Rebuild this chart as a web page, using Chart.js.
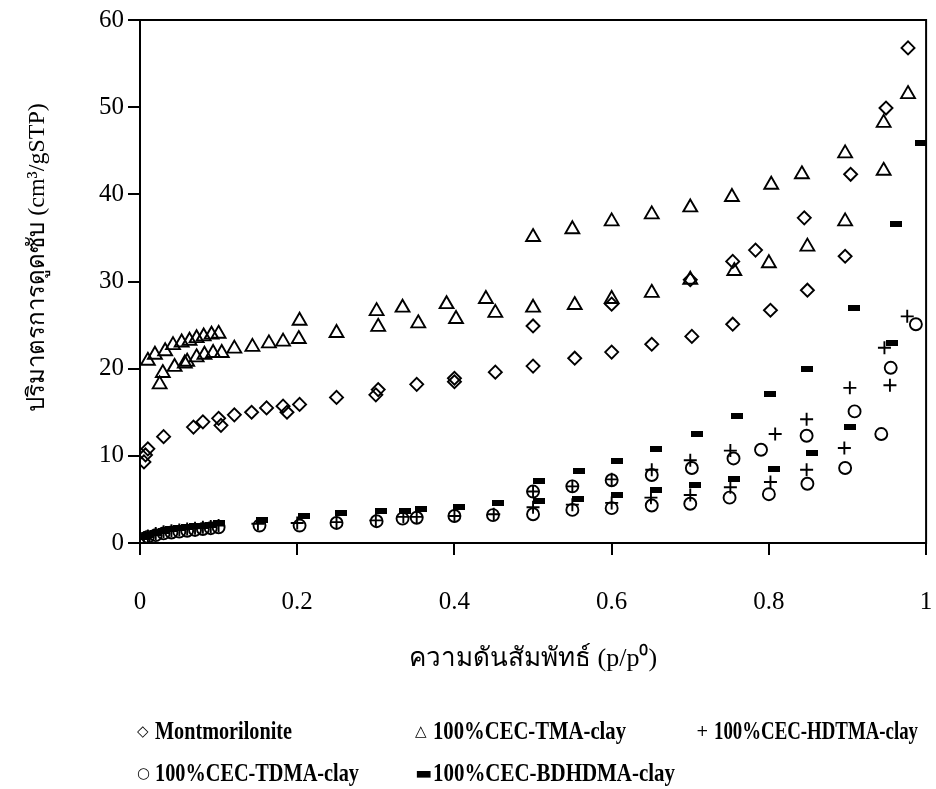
<!DOCTYPE html>
<html>
<head>
<meta charset="utf-8">
<script src="https://cdn.jsdelivr.net/npm/chart.js@4/dist/chart.umd.min.js"></script>
<style>
  body { margin: 0; background: #fff; }
  #wrap { position: relative; width: 936px; height: 789px; }
  .lg { position: absolute; font-family: "Liberation Serif", serif; font-weight: bold; font-size: 26px; color: #000; white-space: nowrap; line-height: 28px; }
  .lg .mk { display: inline-block; width: 18px; font-weight: normal; font-family: "DejaVu Sans", sans-serif; font-size: 15px; vertical-align: 3px; }
  .lg .tx { display: inline-block; transform-origin: left center; }
</style>
</head>
<body>
<div id="wrap">
  <canvas id="chart" width="936" height="789"></canvas>
  <div class="lg" style="left:137px; top:717px;"><span class="mk">◇</span><span class="tx" data-w="137">Montmorilonite</span></div>
  <div class="lg" style="left:415px; top:717px;"><span class="mk">△</span><span class="tx" data-w="193">100%CEC-TMA-clay</span></div>
  <div class="lg" style="left:696px; top:717px;"><span class="mk">+</span><span class="tx" data-w="204">100%CEC-HDTMA-clay</span></div>
  <div class="lg" style="left:137px; top:759px;"><span class="mk">○</span><span class="tx" data-w="204">100%CEC-TDMA-clay</span></div>
  <div class="lg" style="left:415px; top:759px;"><span class="mk" style="font-size:18px; vertical-align:2px;">▬</span><span class="tx" data-w="242">100%CEC-BDHDMA-clay</span></div>
</div>
<script>
// relative pressure p/p0 and adsorbed volume (cm3/gSTP)
var montX = [0.005, 0.007, 0.01, 0.03, 0.068, 0.08, 0.1, 0.12, 0.142, 0.161, 0.182, 0.203, 0.25, 0.303, 0.352, 0.4, 0.452, 0.5, 0.553, 0.6, 0.651, 0.702, 0.754, 0.802, 0.849, 0.897, 0.949, 0.977,
             0.904, 0.845, 0.783, 0.754, 0.70, 0.6, 0.5, 0.4, 0.3, 0.187, 0.103];
var montY = [9.3, 10.1, 10.8, 12.2, 13.3, 13.9, 14.3, 14.7, 15.0, 15.5, 15.7, 15.9, 16.7, 17.6, 18.2, 18.9, 19.6, 20.3, 21.2, 21.9, 22.8, 23.7, 25.1, 26.7, 29.0, 32.9, 49.9, 56.8,
             42.3, 37.3, 33.6, 32.3, 30.2, 27.4, 24.9, 18.5, 17.0, 15.0, 13.5];

var tmaX = [0.025, 0.029, 0.044, 0.057, 0.06, 0.072, 0.082, 0.093, 0.104, 0.12, 0.143, 0.164, 0.182, 0.202, 0.25, 0.303, 0.354, 0.402, 0.452, 0.5, 0.553, 0.6, 0.651, 0.70, 0.756, 0.80, 0.849, 0.897, 0.946, 0.977,
            0.946, 0.897, 0.842, 0.803, 0.753, 0.70, 0.651, 0.6, 0.55, 0.5, 0.44, 0.39, 0.334, 0.301, 0.203,
            0.1, 0.091, 0.081, 0.072, 0.063, 0.053, 0.042, 0.032, 0.019, 0.01];
var tmaY = [18.2, 19.5, 20.2, 20.6, 20.8, 21.3, 21.6, 21.8, 21.8, 22.3, 22.5, 22.9, 23.1, 23.4, 24.1, 24.8, 25.2, 25.7, 26.4, 27.0, 27.3, 28.0, 28.7, 30.2, 31.2, 32.1, 34.0, 36.9, 42.7, 51.5,
            48.2, 44.7, 42.3, 41.1, 39.7, 38.5, 37.7, 36.9, 36.0, 35.1, 28.0, 27.4, 27.0, 26.6, 25.5,
            24.0, 23.9, 23.7, 23.5, 23.2, 23.0, 22.7, 22.0, 21.6, 20.9];

var hdtmaX = [0.005, 0.01, 0.02, 0.03, 0.04, 0.05, 0.06, 0.07, 0.08, 0.09, 0.1, 0.15, 0.2, 0.25, 0.3, 0.335, 0.352, 0.4, 0.45, 0.5, 0.55, 0.6, 0.65, 0.70, 0.751, 0.802, 0.848, 0.896, 0.954, 0.976,
              0.947, 0.903, 0.848, 0.808, 0.751, 0.70, 0.651, 0.6, 0.55, 0.5];
var hdtmaY = [0.6, 0.8, 1.1, 1.3, 1.4, 1.5, 1.6, 1.7, 1.8, 1.9, 2.0, 2.2, 2.3, 2.4, 2.6, 3.0, 3.0, 3.1, 3.3, 4.1, 4.4, 4.6, 5.2, 5.5, 6.4, 7.0, 8.4, 10.9, 18.1, 26.0,
              22.4, 17.8, 14.2, 12.5, 10.6, 9.5, 8.4, 7.3, 6.5, 5.9];

var tdmaX = [0.005, 0.01, 0.02, 0.03, 0.04, 0.05, 0.06, 0.07, 0.08, 0.09, 0.1, 0.152, 0.203, 0.25, 0.301, 0.334, 0.352, 0.4, 0.449, 0.5, 0.55, 0.6, 0.651, 0.70, 0.75, 0.80, 0.849, 0.897, 0.943, 0.987,
             0.955, 0.909, 0.848, 0.79, 0.755, 0.702, 0.651, 0.6, 0.55, 0.5];
var tdmaY = [0.5, 0.7, 0.9, 1.1, 1.2, 1.3, 1.4, 1.5, 1.6, 1.7, 1.8, 2.0, 2.0, 2.3, 2.5, 2.8, 2.9, 3.1, 3.2, 3.3, 3.8, 4.0, 4.3, 4.5, 5.2, 5.6, 6.8, 8.6, 12.5, 25.1,
             20.1, 15.1, 12.3, 10.7, 9.7, 8.6, 7.8, 7.2, 6.5, 5.9];

var bdhdmaX = [0.005, 0.01, 0.02, 0.03, 0.04, 0.05, 0.06, 0.07, 0.08, 0.09, 0.1, 0.155, 0.208, 0.256, 0.307, 0.337, 0.358, 0.406, 0.456, 0.508, 0.557, 0.607, 0.657, 0.706, 0.756, 0.807, 0.855, 0.903, 0.956, 0.994,
               0.962, 0.908, 0.848, 0.802, 0.759, 0.708, 0.657, 0.607, 0.558, 0.508];
var bdhdmaY = [0.7, 0.9, 1.2, 1.4, 1.6, 1.7, 1.8, 1.9, 2.0, 2.1, 2.3, 2.6, 3.1, 3.4, 3.7, 3.7, 3.9, 4.1, 4.6, 4.8, 5.1, 5.5, 6.1, 6.7, 7.3, 8.5, 10.3, 13.3, 22.9, 45.9,
               36.6, 27.0, 20.0, 17.1, 14.6, 12.5, 10.8, 9.4, 8.3, 7.1];

var seriesNames = ['Montmorilonite', '100%CEC-TMA-clay', '100%CEC-HDTMA-clay', '100%CEC-TDMA-clay', '100%CEC-BDHDMA-clay'];

function pts(xs, ys) {
    return xs.map(function (x, i) { return { x: x, y: ys[i] }; });
}

// small filled bar used as the BDHDMA marker
var barMark = document.createElement('canvas');
barMark.width = 12;
barMark.height = 6;
var bctx = barMark.getContext('2d');
bctx.fillStyle = '#000';
bctx.fillRect(0, 0, 12, 6);

var frame = {
    id: 'frame',
    afterDatasetsDraw: function (chart) {
        var a = chart.chartArea, c = chart.ctx;
        c.save();
        c.strokeStyle = '#000';
        c.lineWidth = 2;
        c.strokeRect(a.left, a.top, a.right - a.left, a.bottom - a.top);
        c.restore();
    }
};

var base = { showLine: false, borderColor: '#000', backgroundColor: 'rgba(0,0,0,0)', borderWidth: 1.9 };

new Chart(document.getElementById('chart').getContext('2d'), {
    type: 'scatter',
    data: {
        datasets: [
            Object.assign({ label: seriesNames[0], data: pts(montX, montY), pointStyle: 'rectRot', pointRadius: 6.5 }, base),
            Object.assign({ label: seriesNames[1], data: pts(tmaX, tmaY), pointStyle: 'triangle', pointRadius: 8 }, base),
            Object.assign({ label: seriesNames[2], data: pts(hdtmaX, hdtmaY), pointStyle: 'cross', pointRadius: 6.5 }, base),
            Object.assign({ label: seriesNames[3], data: pts(tdmaX, tdmaY), pointStyle: 'circle', pointRadius: 6 }, base),
            Object.assign({ label: seriesNames[4], data: pts(bdhdmaX, bdhdmaY), pointStyle: barMark, pointRadius: 6 }, base)
        ]
    },
    options: {
        responsive: false,
        animation: false,
        layout: { padding: { top: 20, right: 8, left: 0, bottom: 106 } },
        plugins: {
            legend: { display: false },
            tooltip: { enabled: false }
        },
        scales: {
            x: {
                type: 'linear',
                min: 0,
                max: 1,
                afterFit: function (s) { s.height = 140; s.paddingLeft = 0; s.paddingRight = 0; },
                ticks: {
                    stepSize: 0.2,
                    color: '#000',
                    padding: 32,
                    font: { family: 'Liberation Serif', size: 25 },
                    callback: function (v) { return String(Math.round(v * 10) / 10); }
                },
                grid: { drawOnChartArea: false, tickLength: 12, color: '#000', lineWidth: 2 },
                border: { display: true, color: '#000', width: 2 },
                title: {
                    display: true,
                    text: 'ความดันสัมพัทธ์ (p/p⁰)',
                    color: '#000',
                    padding: { bottom: 8 },
                    font: { family: 'Liberation Serif', size: 26 }
                }
            },
            y: {
                min: 0,
                max: 60,
                afterFit: function (s) { s.width = 140; s.paddingTop = 0; s.paddingBottom = 0; },
                ticks: { stepSize: 10, color: '#000', padding: 4, font: { family: 'Liberation Serif', size: 25 } },
                grid: { drawOnChartArea: false, tickLength: 12, color: '#000', lineWidth: 2 },
                border: { display: true, color: '#000', width: 2 },
                title: {
                    display: true,
                    text: '        ปริมาตรการดูดซับ (cm³/gSTP)',
                    color: '#000',
                    padding: { top: 23 },
                    font: { family: 'Liberation Serif', size: 24 }
                }
            }
        }
    },
    plugins: [frame]
});

// squeeze each legend label to the narrow look of the original
var probe = document.createElement('canvas').getContext('2d');
probe.font = 'bold 26px "Liberation Serif"';
document.querySelectorAll('.lg .tx').forEach(function (el) {
    var k = Number(el.getAttribute('data-w')) / probe.measureText(el.textContent).width;
    el.style.transform = 'scaleX(' + k + ')';
});
</script>
</body>
</html>
